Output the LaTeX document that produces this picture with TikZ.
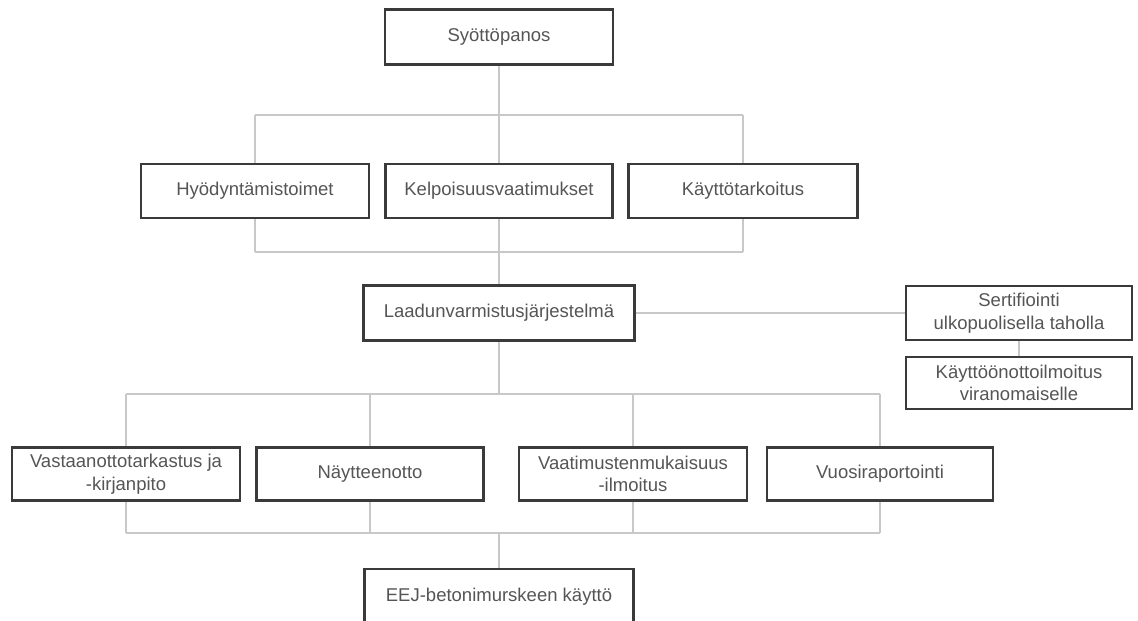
\documentclass[tikz,border=0pt]{standalone}
\usepackage{fontspec}
\setmainfont{Liberation Sans}
\begin{document}
\begin{tikzpicture}[x=1pt,y=-1pt,
  box/.style={draw=boxc,line width=2.2pt,fill=white,text=txtc,align=center,
    font=\fontsize{18.5}{22.5}\selectfont,inner sep=0pt},
  conn/.style={draw=linec,line width=1.8pt}]
\definecolor{boxc}{HTML}{3A3A3A}
\definecolor{linec}{HTML}{C8C8C8}
\definecolor{txtc}{HTML}{555555}
\clip (0,0) rectangle (1138,621);
\useasboundingbox (0,0) rectangle (1138,621);
\fill[white] (0,0) rectangle (1138,621);
% nodes
\node[box,minimum width=228pt,minimum height=55pt] (syo) at (499,37) {Syöttöpanos};
\node[box,minimum width=228pt,minimum height=54pt] (hyo) at (255,191) {Hyödyntämistoimet};
\node[box,minimum width=227pt,minimum height=54pt] (kel) at (499,191) {Kelpoisuusvaatimukset};
\node[box,minimum width=229pt,minimum height=54pt] (kay) at (743,191) {Käyttötarkoitus};
\node[box,minimum width=271pt,minimum height=55pt] (laa) at (499,313) {Laadunvarmistusjärjestelmä};
\node[box,minimum width=226pt,minimum height=54pt] (ser) at (1019,313) {Sertifiointi\\ulkopuolisella taholla};
\node[box,minimum width=226pt,minimum height=52pt] (kot) at (1019,383) {Käyttöönottoilmoitus\\viranomaiselle};
\node[box,minimum width=228pt,minimum height=53pt] (vas) at (126,474) {Vastaanottotarkastus ja\\-kirjanpito};
\node[box,minimum width=227pt,minimum height=53pt] (nay) at (370,474) {Näytteenotto};
\node[box,minimum width=228pt,minimum height=53pt] (vaa) at (633,474) {Vaatimustenmukaisuus\\-ilmoitus};
\node[box,minimum width=226pt,minimum height=53pt] (vuo) at (880,474) {Vuosiraportointi};
\node[box,minimum width=269pt,minimum height=56pt] (eej) at (499,597) {EEJ-betonimurskeen käyttö};
% bracket coordinates
\coordinate (ut) at (499,115);
\coordinate (ub) at (499,252);
\coordinate (lt) at (499,394);
\coordinate (lb) at (499,533);
% upper bracket
\draw[conn] (syo) -- (ut);
\draw[conn] (hyo.north |- ut) -- (kay.north |- ut);
\draw[conn] (hyo.north |- ut) -- (hyo.north);
\draw[conn] (ut) -- (kel.north);
\draw[conn] (kay.north |- ut) -- (kay.north);
\draw[conn] (hyo.south) -- (hyo.south |- ub);
\draw[conn] (kel.south) -- (ub);
\draw[conn] (kay.south) -- (kay.south |- ub);
\draw[conn] (hyo.south |- ub) -- (kay.south |- ub);
\draw[conn] (ub) -- (laa);
% side branch
\draw[conn] (laa.east) -- (ser.west);
\draw[conn] (ser) -- (kot);
% lower bracket
\draw[conn] (laa) -- (lt);
\draw[conn] (vas.north |- lt) -- (vuo.north |- lt);
\draw[conn] (vas.north |- lt) -- (vas.north);
\draw[conn] (nay.north |- lt) -- (nay.north);
\draw[conn] (vaa.north |- lt) -- (vaa.north);
\draw[conn] (vuo.north |- lt) -- (vuo.north);
\draw[conn] (vas.south) -- (vas.south |- lb);
\draw[conn] (nay.south) -- (nay.south |- lb);
\draw[conn] (vaa.south) -- (vaa.south |- lb);
\draw[conn] (vuo.south) -- (vuo.south |- lb);
\draw[conn] (vas.south |- lb) -- (vuo.south |- lb);
\draw[conn] (lb) -- (eej);
\end{tikzpicture}
\end{document}
